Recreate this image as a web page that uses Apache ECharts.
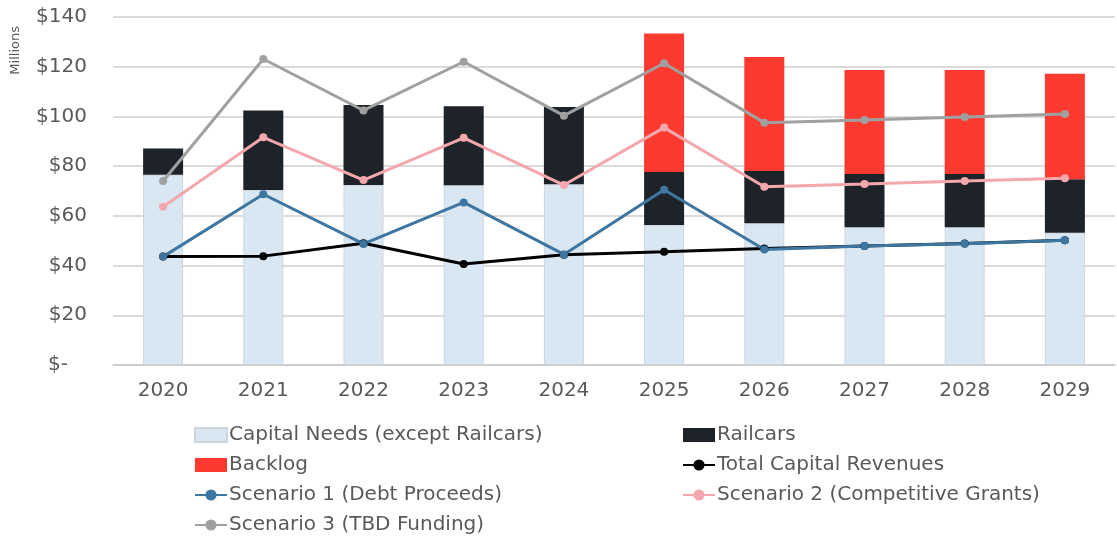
<!DOCTYPE html>
<html>
<head>
<meta charset="utf-8">
<script src="https://cdn.jsdelivr.net/npm/echarts@6/dist/echarts.min.js"></script>
<style>
  html, body { margin: 0; padding: 0; background: #fff; }
  #chart { width: 1117px; height: 539px; }
</style>
</head>
<body>
<div id="chart"></div>
<script>
// données (millions $)
const years = ['2020', '2021', '2022', '2023', '2024', '2025', '2026', '2027', '2028', '2029'];
const capitalNeeds = [76.5, 70.4, 72.4, 72.3, 72.7, 56.3, 57.0, 55.4, 55.4, 53.2];
const railcars = [10.6, 32.0, 32.2, 31.8, 31.1, 21.3, 21.0, 21.4, 21.4, 21.5];
const backlog = [0, 0, 0, 0, 0, 55.8, 45.9, 41.9, 41.9, 42.5];
const totalRevenues = [43.6, 43.8, 49.0, 40.6, 44.4, 45.6, 46.9, 47.9, 48.9, 50.2];
const scenario1 = [43.6, 68.7, 48.7, 65.4, 44.5, 70.5, 46.5, 47.9, 48.8, 50.2];
const scenario2 = [63.7, 91.6, 74.4, 91.4, 72.4, 95.5, 71.7, 72.8, 74.0, 75.1];
const scenario3 = [74.0, 123.1, 102.4, 122.0, 100.3, 121.4, 97.5, 98.6, 99.8, 101.0];
const yTicks = { min: 0, max: 140, interval: 20 };

const chart = echarts.init(document.getElementById('chart'));

const font = 'DejaVu Sans';
const textGray = '#595959';

function lineSeries(name, data, color) {
    return {
        name: name,
        type: 'line',
        data: data,
        symbol: 'circle',
        symbolSize: 8,
        lineStyle: { color: color, width: 3 },
        itemStyle: { color: color },
        z: 5
    };
}

const legendText = { fontFamily: font, fontSize: 20, color: textGray, padding: [0, 0, 0, -3] };
const legendBase = {
    top: 420, orient: 'vertical', itemGap: 10, height: 120,
    itemWidth: 32, itemHeight: 14, textStyle: legendText
};

const options = {
    animation: false,
    textStyle: { fontFamily: font },
    grid: { left: 113, right: 2, top: 17, bottom: 174 },
    graphic: [{
        type: 'text', left: 9, top: 26, rotation: Math.PI / 2,
        style: { text: 'Millions', font: '13px "DejaVu Sans"', fill: textGray }
    }],
    legend: [
        Object.assign({}, legendBase, {
            left: 189,
            data: [
                { name: 'Capital Needs (except Railcars)', icon: 'rect' },
                { name: 'Backlog', icon: 'rect' },
                'Scenario 1 (Debt Proceeds)',
                'Scenario 3 (TBD Funding)'
            ]
        }),
        Object.assign({}, legendBase, {
            left: 677,
            data: [
                { name: 'Railcars', icon: 'rect' },
                'Total Capital Revenues',
                'Scenario 2 (Competitive Grants)'
            ]
        })
    ],
    xAxis: {
        type: 'category',
        data: years,
        axisLine: { lineStyle: { color: '#c8c8c8', width: 1.5 } },
        axisTick: { show: false },
        axisLabel: { fontFamily: font, fontSize: 20, color: textGray, margin: 16 }
    },
    yAxis: {
        type: 'value',
        min: yTicks.min,
        max: yTicks.max,
        interval: yTicks.interval,
        axisLine: { show: false },
        axisTick: { show: false },
        splitLine: { lineStyle: { color: '#cfcfcf', width: 1.5 } },
        axisLabel: {
            fontFamily: font, fontSize: 20, color: textGray, margin: 26,
            formatter: v => v === 0 ? '$-   ' : '$' + v
        }
    },
    series: [
        {
            name: 'Capital Needs (except Railcars)', type: 'bar', stack: 'needs',
            data: capitalNeeds, barWidth: 40,
            itemStyle: { color: '#d9e7f2', borderColor: '#cdd6de', borderWidth: 1 }
        },
        {
            name: 'Railcars', type: 'bar', stack: 'needs',
            data: railcars, barWidth: 40,
            itemStyle: { color: '#1d2329' }
        },
        {
            name: 'Backlog', type: 'bar', stack: 'needs',
            data: backlog, barWidth: 40,
            itemStyle: { color: '#fc3a30' }
        },
        lineSeries('Total Capital Revenues', totalRevenues, '#000000'),
        lineSeries('Scenario 1 (Debt Proceeds)', scenario1, '#3d76a0'),
        lineSeries('Scenario 2 (Competitive Grants)', scenario2, '#f4a7ac'),
        lineSeries('Scenario 3 (TBD Funding)', scenario3, '#a0a0a0')
    ]
};

chart.setOption(options);
</script>
</body>
</html>
